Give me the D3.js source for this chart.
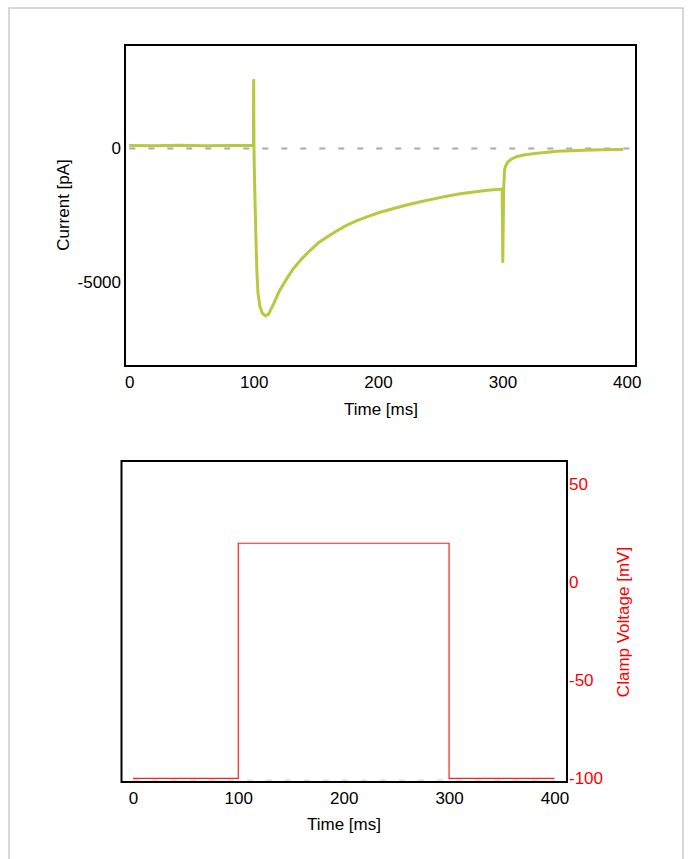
<!DOCTYPE html>
<html>
<head>
<meta charset="utf-8">
<script src="https://cdn.jsdelivr.net/npm/d3@7"></script>
<style>
  body { margin: 0; background: #fff; }
  svg text { font-family: Arial, "Liberation Sans", sans-serif; }
</style>
</head>
<body>
<div id="plot"></div>
<script>
var timeMs = [0, 20, 40, 60, 80, 99.8, 100, 100.2, 100.5, 101, 101.8, 102.6, 103.5, 105, 107, 109.5,
  112, 116, 121, 127, 132, 139, 145.5, 152, 159, 167, 175, 183, 191, 201, 212.5, 223, 234, 245,
  255, 266, 277, 288, 298, 299.8, 300.3, 300.6, 301, 301.7, 302.5, 304.4, 307, 311, 317, 325,
  334, 344, 355, 365, 380, 397];
var currentPA = [110, 100, 120, 105, 110, 110, 2550, 200, -700, -1800, -3300, -4600, -5400, -5900, -6150, -6250,
  -6180, -5800, -5290, -4830, -4480, -4100, -3800, -3520, -3300, -3070, -2860, -2690, -2550, -2390, -2240, -2110, -1990, -1880,
  -1780, -1690, -1620, -1560, -1520, -1520, -4230, -3000, -1500, -810, -650, -500, -400, -310, -240, -190,
  -150, -100, -80, -63, -45, -37];

// Voltage clamp protocol
var stepTimeMs = [0, 100, 100, 300, 300, 400];
var stepVoltageMV = [-100, -100, 20, 20, -100, -100];

var timeTicks = [0, 100, 200, 300, 400];
var currentTicks = [0, -5000];
var voltageTicks = [50, 0, -50, -100];

var W = 689, H = 859;
var svg = d3.select("#plot").append("svg")
  .attr("width", W)
  .attr("height", H);

var plainFormat = function(d){ return String(d); };

// outer light frame
svg.append("rect")
  .attr("x", 9).attr("y", 8)
  .attr("width", 674).attr("height", 870)
  .attr("fill", "none")
  .attr("stroke", "#cccccc")
  .attr("stroke-width", 1.5);

// ---------- Top panel: current ----------
var box1 = {left: 125, top: 45, right: 636, bottom: 366};

var x1 = d3.scaleLinear().domain([-3.45, 407.4]).range([box1.left, box1.right]);
var y1 = d3.scaleLinear().domain([-8120, 3866]).range([box1.bottom, box1.top]);

var g1 = svg.append("g");

// zero reference line
g1.append("line")
  .attr("x1", x1(0)).attr("x2", box1.right - 1)
  .attr("y1", y1(0)).attr("y2", y1(0))
  .attr("stroke", "#aaaaaa")
  .attr("stroke-width", 2)
  .attr("stroke-dasharray", "6,13");

var currentLine = d3.line()
  .x(function(d, i){ return x1(timeMs[i]); })
  .y(function(d){ return y1(d); });

g1.append("path")
  .datum(currentPA)
  .attr("d", currentLine)
  .attr("fill", "none")
  .attr("stroke", "#b9c840")
  .attr("stroke-width", 3)
  .attr("stroke-linejoin", "round");

g1.append("rect")
  .attr("x", box1.left).attr("y", box1.top)
  .attr("width", box1.right - box1.left).attr("height", box1.bottom - box1.top)
  .attr("fill", "none").attr("stroke", "#000").attr("stroke-width", 2);

g1.append("g")
  .attr("transform", "translate(0," + box1.bottom + ")")
  .call(d3.axisBottom(x1).tickValues(timeTicks).tickSize(0).tickPadding(10).tickFormat(plainFormat))
  .call(function(a){ a.select(".domain").remove(); })
  .selectAll("text").style("font-size", "17px").attr("fill", "#000");

g1.append("g")
  .attr("transform", "translate(" + box1.left + ",0)")
  .call(d3.axisLeft(y1).tickValues(currentTicks).tickSize(0).tickPadding(4).tickFormat(plainFormat))
  .call(function(a){ a.select(".domain").remove(); })
  .selectAll("text").style("font-size", "17px").attr("fill", "#000");

g1.append("text")
  .attr("x", 381).attr("y", 415)
  .attr("text-anchor", "middle")
  .style("font-size", "17px")
  .text("Time [ms]");

g1.append("text")
  .attr("transform", "translate(69,205) rotate(-90)")
  .attr("text-anchor", "middle")
  .style("font-size", "17px")
  .text("Current [pA]");

// ---------- Bottom panel: clamp voltage ----------
var box2 = {left: 121.5, top: 461, right: 567, bottom: 782};

var x2 = d3.scaleLinear().domain([-10.8, 411.9]).range([box2.left, box2.right]);
var y2 = d3.scaleLinear().domain([-101.9, 62]).range([box2.bottom, box2.top]);

var g2 = svg.append("g");

g2.append("line")
  .attr("x1", x2(0)).attr("x2", x2(400))
  .attr("y1", y2(-101)).attr("y2", y2(-101))
  .attr("stroke", "#dddddd")
  .attr("stroke-width", 1.5)
  .attr("stroke-dasharray", "6,13");

var voltageLine = d3.line()
  .x(function(d, i){ return x2(stepTimeMs[i]); })
  .y(function(d){ return y2(d); });

g2.append("path")
  .datum(stepVoltageMV)
  .attr("d", voltageLine)
  .attr("fill", "none")
  .attr("stroke", "#ff2020")
  .attr("stroke-width", 1.2);

g2.append("rect")
  .attr("x", box2.left).attr("y", box2.top)
  .attr("width", box2.right - box2.left).attr("height", box2.bottom - box2.top)
  .attr("fill", "none").attr("stroke", "#000").attr("stroke-width", 2);

g2.append("g")
  .attr("transform", "translate(0," + box2.bottom + ")")
  .call(d3.axisBottom(x2).tickValues(timeTicks).tickSize(0).tickPadding(10).tickFormat(plainFormat))
  .call(function(a){ a.select(".domain").remove(); })
  .selectAll("text").style("font-size", "17px").attr("fill", "#000");

g2.append("g")
  .attr("transform", "translate(" + box2.right + ",0)")
  .call(d3.axisRight(y2).tickValues(voltageTicks).tickSize(0).tickPadding(2).tickFormat(plainFormat))
  .call(function(a){ a.select(".domain").remove(); })
  .selectAll("text").style("font-size", "17px").attr("fill", "#ff0000");

g2.append("text")
  .attr("x", 344).attr("y", 830)
  .attr("text-anchor", "middle")
  .style("font-size", "17px")
  .text("Time [ms]");

g2.append("text")
  .attr("transform", "translate(629,622) rotate(-90)")
  .attr("text-anchor", "middle")
  .attr("fill", "#ff0000")
  .style("font-size", "17px")
  .text("Clamp Voltage [mV]");
</script>
</body>
</html>
